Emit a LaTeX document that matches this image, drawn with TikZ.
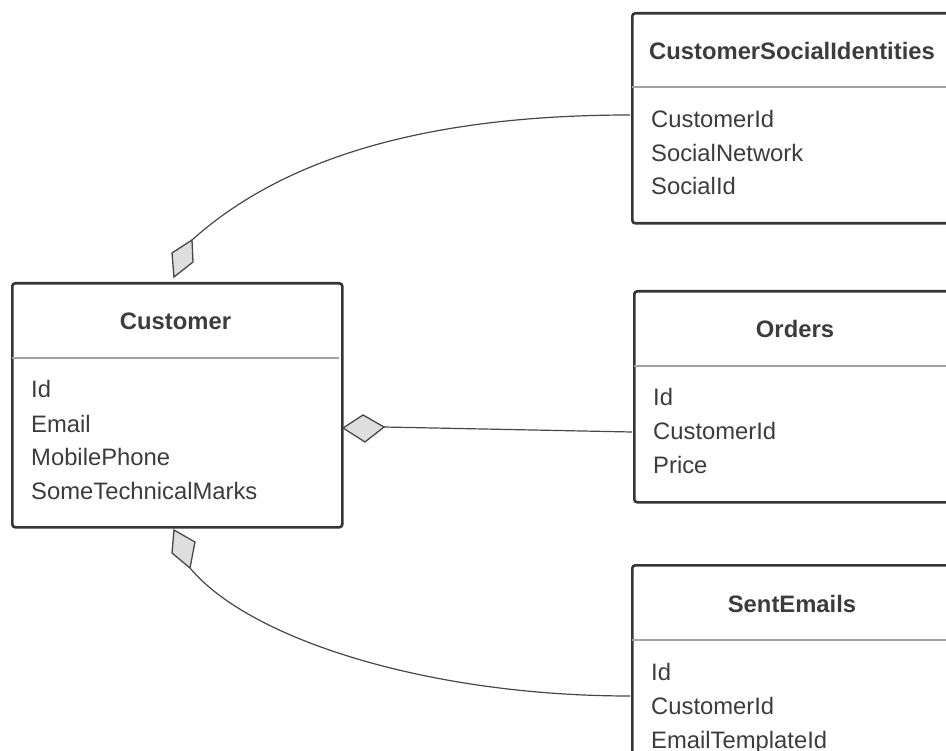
\documentclass[tikz,border=0pt]{standalone}
\usepackage{fontspec}
\setmainfont{Liberation Sans}
\begin{document}
\begin{tikzpicture}[x=1pt,y=-1pt,
  tbl/.style={draw=boxgray, line width=2.6pt, rounded corners=3pt, inner sep=0pt, anchor=north west, minimum width=330pt},
  divider/.style={draw=divgray, line width=2pt},
  ttl/.style={anchor=base, text=txtgray, font=\fontsize{23.8}{28}\selectfont\bfseries, inner sep=0pt},
  fld/.style={anchor=base west, text=txtgray, font=\fontsize{23.8}{28}\selectfont, inner sep=0pt},
  conn/.style={draw=linegray, line width=1.2pt},
  diam/.style={draw=linegray, fill=diamfill, line width=1.3pt, line join=miter}]
\definecolor{boxgray}{HTML}{353535}
\definecolor{divgray}{HTML}{A2A2A2}
\definecolor{txtgray}{HTML}{3C3C3C}
\definecolor{linegray}{HTML}{474747}
\definecolor{diamfill}{HTML}{DEDEDE}
\useasboundingbox (0,0) rectangle (946,751);
\clip (0,0) rectangle (946,751);

% Customer
\node[tbl, minimum height=244pt] (cust) at (11,282) {};
\draw[divider] (12,358) -- (339,358);
\node[ttl] (custT) at (175.5,330) {Customer};
\node[fld] (custF1) at (31,398) {Id};
\node[fld] (custF2) at (31,432) {Email};
\node[fld] (custF3) at (31,466) {MobilePhone};
\node[fld] (custF4) at (31,500) {SomeTechnicalMarks};

% CustomerSocialIdentities
\node[tbl, minimum height=210pt] (csi) at (631,12) {};
\draw[divider] (632,87) -- (960,87);
\node[ttl] (csiT) at (792,60) {CustomerSocialIdentities};
\node[fld] (csiF1) at (651,128) {CustomerId};
\node[fld] (csiF2) at (651,162) {SocialNetwork};
\node[fld] (csiF3) at (651,195) {SocialId};

% Orders
\node[tbl, minimum height=211pt] (ord) at (633,290) {};
\draw[divider] (634,366) -- (962,366);
\node[ttl] (ordT) at (795,338) {Orders};
\node[fld] (ordF1) at (653,406) {Id};
\node[fld] (ordF2) at (653,440) {CustomerId};
\node[fld] (ordF3) at (653,474) {Price};

% SentEmails
\node[tbl, minimum height=260pt] (sent) at (631,564) {};
\draw[divider] (632,640) -- (960,640);
\node[ttl] (sentT) at (792,612) {SentEmails};
\node[fld] (sentF1) at (651,680) {Id};
\node[fld] (sentF2) at (651,714) {CustomerId};
\node[fld] (sentF3) at (651,748) {EmailTemplateId};

% connector end points
\coordinate (csiIn) at (630,115);
\coordinate (ordIn) at (632,432);
\coordinate (sentIn) at (630,696);
\coordinate (dTop) at (192,240);
\coordinate (dMid) at (384,427);
\coordinate (dBot) at (190,568);

% connectors
\draw[conn] (csiIn) .. controls (400,115) and (270,170) .. (dTop);
\draw[conn] (ordIn) -- (dMid);
\draw[conn] (sentIn) .. controls (430,696) and (250,640) .. (dBot);

% aggregation diamonds
\draw[diam] (174,277) -- (172,253) -- (dTop) -- (193,262) -- cycle;
\draw[diam] (343,428) -- (363,415) -- (dMid) -- (365,442) -- cycle;
\draw[diam] (174,530) -- (195,542) -- (dBot) -- (172,553) -- cycle;
\end{tikzpicture}
\end{document}
